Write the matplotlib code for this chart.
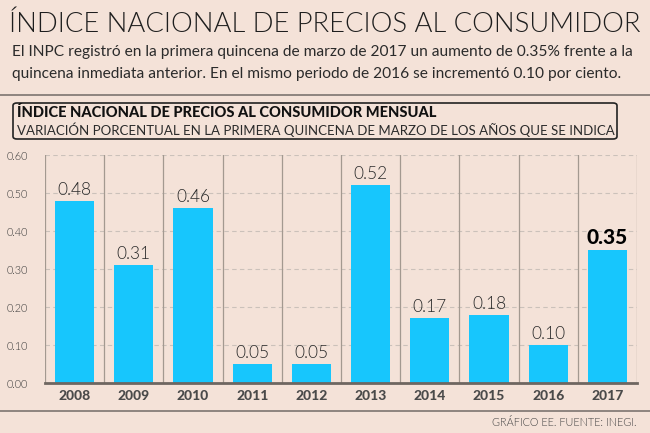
import matplotlib
matplotlib.use("Agg")
import matplotlib.pyplot as plt
from matplotlib.lines import Line2D
from matplotlib.patches import FancyBboxPatch

years = ["2008", "2009", "2010", "2011", "2012", "2013", "2014", "2015", "2016", "2017"]
values = [0.48, 0.31, 0.46, 0.05, 0.05, 0.52, 0.17, 0.18, 0.10, 0.35]
yticks = [0.0, 0.1, 0.2, 0.3, 0.4, 0.5, 0.6]

BG = "#f4e2d8"
BAR = "#17c6fd"
TXT = "#2b2b2b"
SEP = "#a39990"

plt.rcParams["font.family"] = ["Lato", "DejaVu Sans"]

fig = plt.figure(figsize=(6.5, 4.33), dpi=100, facecolor=BG)

# header
fig.text(9 / 650, 1 - 24 / 433, "ÍNDICE NACIONAL DE PRECIOS AL CONSUMIDOR",
         fontsize=19.7, fontweight=300, color="#1e1e1e", va="center", ha="left")
fig.text(12 / 650, 1 - 52 / 433,
         "El INPC registró en la primera quincena de marzo de 2017 un aumento de 0.35% frente a la",
         fontsize=11.2, color=TXT, va="center", ha="left")
fig.text(12 / 650, 1 - 74 / 433,
         "quincena inmediata anterior. En el mismo periodo de 2016 se incrementó 0.10 por ciento.",
         fontsize=11.2, color=TXT, va="center", ha="left")

fig.add_artist(Line2D([0, 1], [1 - 95 / 433] * 2, transform=fig.transFigure,
                      color="#7d7470", lw=1.2))

box = FancyBboxPatch((13 / 650, 1 - 139 / 433), 604 / 650, 36 / 433,
                     boxstyle="round,pad=0,rounding_size=0.006",
                     transform=fig.transFigure, facecolor="none",
                     edgecolor="#222222", lw=1.2)
fig.add_artist(box)
fig.text(17 / 650, 1 - 113 / 433, "ÍNDICE NACIONAL DE PRECIOS AL CONSUMIDOR MENSUAL",
         fontsize=10.5, fontweight=900, color="#111111", va="center", ha="left")
fig.text(17 / 650, 1 - 130 / 433,
         "VARIACIÓN PORCENTUAL EN LA PRIMERA QUINCENA DE MARZO DE LOS AÑOS QUE SE INDICA",
         fontsize=9.5, color=TXT, va="center", ha="left")

# chart
ax = fig.add_axes([45 / 650, 50 / 433, 592 / 650, 228 / 433])
ax.set_facecolor(BG)
x = list(range(len(years)))
ax.bar(x, values, width=0.66, color=BAR, zorder=3)
ax.set_xlim(-0.5, len(years) - 0.5)
ax.set_ylim(0, 0.6)

for yv in yticks[1:]:
    ax.axhline(yv, color="#cbc1ba", lw=0.8, ls=(0, (4, 3)), zorder=1)
for i in range(len(years) + 1):
    ax.axvline(i - 0.5, color=SEP, lw=0.9, zorder=2)

for i, v in enumerate(values):
    if years[i] == "2017":
        ax.text(i, v + 0.008, f"{v:.2f}", ha="center", va="bottom",
                fontsize=15, fontweight=900, color="#000000", zorder=4)
    else:
        ax.text(i, v + 0.008, f"{v:.2f}", ha="center", va="bottom",
                fontsize=12.5, fontweight=300, color=TXT, zorder=4)

ax.set_yticks(yticks)
ax.set_yticklabels([f"{t:.2f}" for t in yticks], fontweight=300)
ax.set_xticks(x)
ax.set_xticklabels(years, fontweight=900)
ax.tick_params(axis="y", length=0, labelsize=7.8, labelcolor="#3a3a3a", pad=12)
ax.tick_params(axis="x", length=0, labelsize=10, labelcolor="#4a4a4a", pad=5)
for side in ["top", "right", "left"]:
    ax.spines[side].set_visible(False)
ax.spines["bottom"].set_color("#6e6660")
ax.spines["bottom"].set_linewidth(2)
ax.spines["bottom"].set_zorder(5)

# footer
fig.add_artist(Line2D([0, 1], [1 - 411 / 433] * 2, transform=fig.transFigure,
                      color="#7d7470", lw=1.2))
fig.text(637 / 650, 1 - 423 / 433, "GRÁFICO EE. FUENTE: INEGI.",
         fontsize=7.8, fontweight=300, color="#444444", va="center", ha="right")

fig.savefig("out.png", dpi=100, facecolor=BG)
